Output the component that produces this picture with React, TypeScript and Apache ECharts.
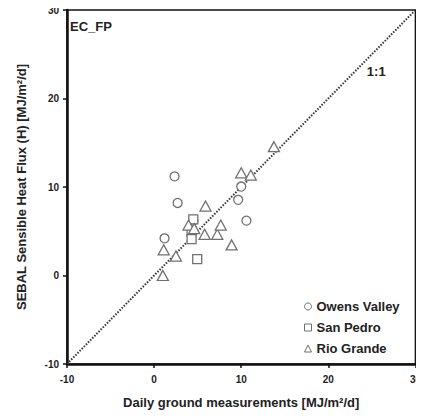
import React, { useEffect, useRef } from "react";
import * as echarts from "echarts";

const owensValley: number[][] = [
  [2.35, 11.2], [2.7, 8.2], [1.2, 4.2], [4.5, 6.2], [10.0, 10.05], [9.65, 8.55], [10.6, 6.2],
];
const sanPedro: number[][] = [
  [4.5, 6.35], [4.3, 5.0], [4.3, 4.1], [4.95, 1.85],
];
const rioGrande: number[][] = [
  [13.75, 14.55], [10.0, 11.6], [11.1, 11.35], [5.9, 7.85], [3.95, 5.7], [4.6, 5.3],
  [5.8, 4.65], [7.25, 4.65], [7.65, 5.7], [8.9, 3.45], [1.1, 2.9], [2.5, 2.2], [1.0, 0.0],
];
const oneToOne: number[][] = [[-10, -10], [30, 30]];
const oneToOneLabelAt: number[] = [25.5, 23.0];
const axisMin = -10;
const axisMax = 30;
const axisStep = 10;

const FONT = "Liberation Sans, Arial, sans-serif";
const MARK = "#707070";

export default function App() {
  const ref = useRef<HTMLDivElement>(null);
  useEffect(() => {
    if (!ref.current) return;
    const chart = echarts.init(ref.current, null, { renderer: "svg" });
    const axisCommon = {
      type: "value",
      min: axisMin,
      max: axisMax,
      interval: axisStep,
      splitLine: { show: false },
      axisLine: { show: true, onZero: false, lineStyle: { color: "#111", width: 2.5 } },
      axisTick: { show: true, inside: false, length: 4, lineStyle: { color: "#111", width: 1.5 } },
      nameLocation: "middle",
      nameTextStyle: { fontFamily: FONT, fontWeight: "bold", fontSize: 13, color: "#222" },
    };
    const scatterCommon = (name: string, symbol: string, size: number | number[], data: number[][]) => ({
      name,
      type: "scatter",
      data,
      symbol,
      symbolSize: size,
      itemStyle: { color: "#fff", borderColor: MARK, borderWidth: 1.3, opacity: 1 },
      z: 3,
    });
    chart.setOption({
      animation: false,
      backgroundColor: "#fff",
      title: {
        text: "EC_FP",
        left: 70,
        top: 20,
        padding: 0,
        textStyle: { fontFamily: FONT, fontWeight: "bold", fontSize: 13, color: "#222" },
      },
      grid: { left: 67, right: 4, top: 10, bottom: 54, show: true, borderColor: "#111", borderWidth: 1.5 },
      legend: {
        orient: "vertical",
        left: 304,
        top: 300,
        padding: 0,
        itemWidth: 7,
        itemHeight: 7,
        itemGap: 8,
        itemStyle: { borderWidth: 1 },
        textStyle: { fontFamily: FONT, fontWeight: "bold", fontSize: 13, color: "#222" },
        data: [
          { name: "Owens Valley", icon: "circle" },
          { name: "San Pedro", icon: "rect" },
          { name: "Rio Grande", icon: "triangle" },
        ],
      },
      xAxis: {
        ...axisCommon,
        name: "Daily ground measurements [MJ/m²/d]",
        nameGap: 32,
        axisLabel: { fontFamily: FONT, fontWeight: "bold", fontSize: 10, color: "#222", margin: 10 },
      },
      yAxis: {
        ...axisCommon,
        name: "SEBAL Sensible Heat Flux (H) [MJ/m²/d]",
        nameGap: 39,
        axisLabel: { fontFamily: FONT, fontWeight: "bold", fontSize: 10, color: "#222", margin: 8 },
      },
      series: [
        {
          name: "1:1",
          type: "line",
          data: oneToOne,
          symbol: "none",
          lineStyle: { color: "#333", width: 2, type: [1.5, 1.5] },
          z: 2,
          markPoint: {
            symbol: "circle",
            symbolSize: 0,
            data: [{ coord: oneToOneLabelAt, value: "1:1" }],
            label: {
              show: true,
              position: "inside",
              formatter: "1:1",
              fontFamily: FONT,
              fontWeight: "bold",
              fontSize: 13,
              color: "#222",
            },
          },
        },
        scatterCommon("Owens Valley", "circle", 9, owensValley),
        scatterCommon("San Pedro", "rect", 9, sanPedro),
        scatterCommon("Rio Grande", "triangle", [11, 10], rioGrande),
      ],
    });
    return () => chart.dispose();
  }, []);
  return <div ref={ref} style={{ width: 424, height: 418, margin: -8 }} />;
}
